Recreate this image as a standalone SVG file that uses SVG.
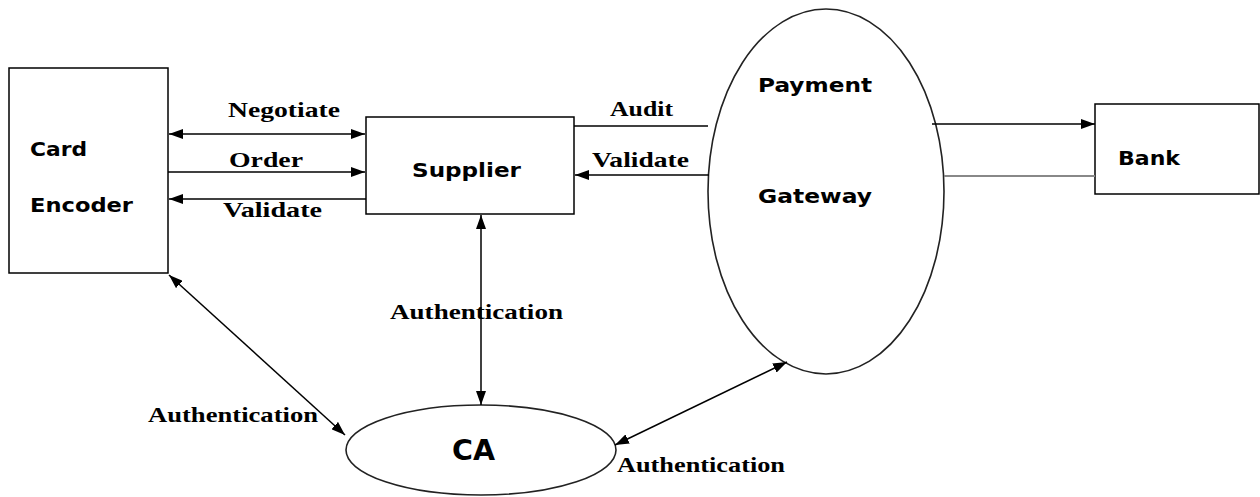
<svg xmlns="http://www.w3.org/2000/svg" width="1260" height="497" viewBox="0 0 1260 497">
<defs>
<marker id="arr" viewBox="0 0 14 10" refX="14" refY="5" markerWidth="14" markerHeight="10" markerUnits="userSpaceOnUse" orient="auto-start-reverse">
<path d="M0,0 L14,5 L0,10 Z" fill="#000"/>
</marker>
<style>
.box{fill:#fff;stroke:#000;stroke-width:1.5}
.ell{fill:#fff;stroke:#222;stroke-width:1.6}
.ln{stroke:#000;stroke-width:1.5;fill:none}
.sans{font-family:"DejaVu Sans",Verdana,sans-serif;font-weight:bold;font-size:20px;fill:#000}
.big{font-size:28px}
.ser{font-family:"Liberation Serif","Times New Roman",serif;font-weight:bold;font-size:21px;fill:#000}
</style>
</defs>
<rect width="1260" height="497" fill="#fff"/>

<g id="card-encoder">
<rect class="box" x="9" y="68" width="159" height="205"/>
<text class="sans" x="30" y="156" textLength="57" lengthAdjust="spacingAndGlyphs">Card</text>
<text class="sans" x="30" y="212" textLength="103" lengthAdjust="spacingAndGlyphs">Encoder</text>
</g>

<g id="supplier">
<rect class="box" x="366" y="117" width="208" height="97"/>
<text class="sans" x="412" y="177" textLength="109" lengthAdjust="spacingAndGlyphs">Supplier</text>
</g>

<g id="payment-gateway">
<ellipse class="ell" cx="826" cy="191.5" rx="118" ry="182.5"/>
<text class="sans" x="758" y="92" textLength="114" lengthAdjust="spacingAndGlyphs">Payment</text>
<text class="sans" x="758" y="203" textLength="114" lengthAdjust="spacingAndGlyphs">Gateway</text>
</g>

<g id="bank">
<rect class="box" x="1095" y="104" width="164" height="90"/>
<text class="sans" x="1118" y="165" textLength="62" lengthAdjust="spacingAndGlyphs">Bank</text>
</g>

<g id="ca">
<ellipse class="ell" cx="481" cy="450" rx="135" ry="45"/>
<text class="sans big" x="452" y="460" textLength="43" lengthAdjust="spacingAndGlyphs">CA</text>
</g>

<g id="connectors">
<line class="ln" x1="169" y1="134" x2="365" y2="134" marker-start="url(#arr)" marker-end="url(#arr)"/>
<line class="ln" x1="168" y1="172" x2="365" y2="172" marker-end="url(#arr)"/>
<line class="ln" x1="366" y1="199" x2="169" y2="199" marker-end="url(#arr)"/>
<line class="ln" x1="574" y1="126" x2="708" y2="126"/>
<line class="ln" x1="709" y1="175" x2="575" y2="175" marker-end="url(#arr)"/>
<line class="ln" x1="932" y1="124" x2="1095" y2="124" marker-end="url(#arr)"/>
<line x1="944" y1="176" x2="1095" y2="176" stroke="#888" stroke-width="2.2"/>
<line class="ln" x1="481" y1="215" x2="481" y2="405" marker-start="url(#arr)" marker-end="url(#arr)"/>
<line class="ln" x1="169" y1="275" x2="345" y2="435" marker-start="url(#arr)" marker-end="url(#arr)"/>
<line class="ln" x1="615" y1="445" x2="787" y2="362" marker-start="url(#arr)" marker-end="url(#arr)"/>
<text class="ser" x="228" y="117" textLength="112" lengthAdjust="spacingAndGlyphs">Negotiate</text>
<text class="ser" x="229" y="167" textLength="74" lengthAdjust="spacingAndGlyphs">Order</text>
<text class="ser" x="223" y="217" textLength="99" lengthAdjust="spacingAndGlyphs">Validate</text>
<text class="ser" x="610" y="116" textLength="63" lengthAdjust="spacingAndGlyphs">Audit</text>
<text class="ser" x="592" y="167" textLength="97" lengthAdjust="spacingAndGlyphs">Validate</text>
<text class="ser" x="390" y="319" textLength="173" lengthAdjust="spacingAndGlyphs">Authentication</text>
<text class="ser" x="148" y="422" textLength="170" lengthAdjust="spacingAndGlyphs">Authentication</text>
<text class="ser" x="617" y="472" textLength="168" lengthAdjust="spacingAndGlyphs">Authentication</text>
</g>
</svg>
